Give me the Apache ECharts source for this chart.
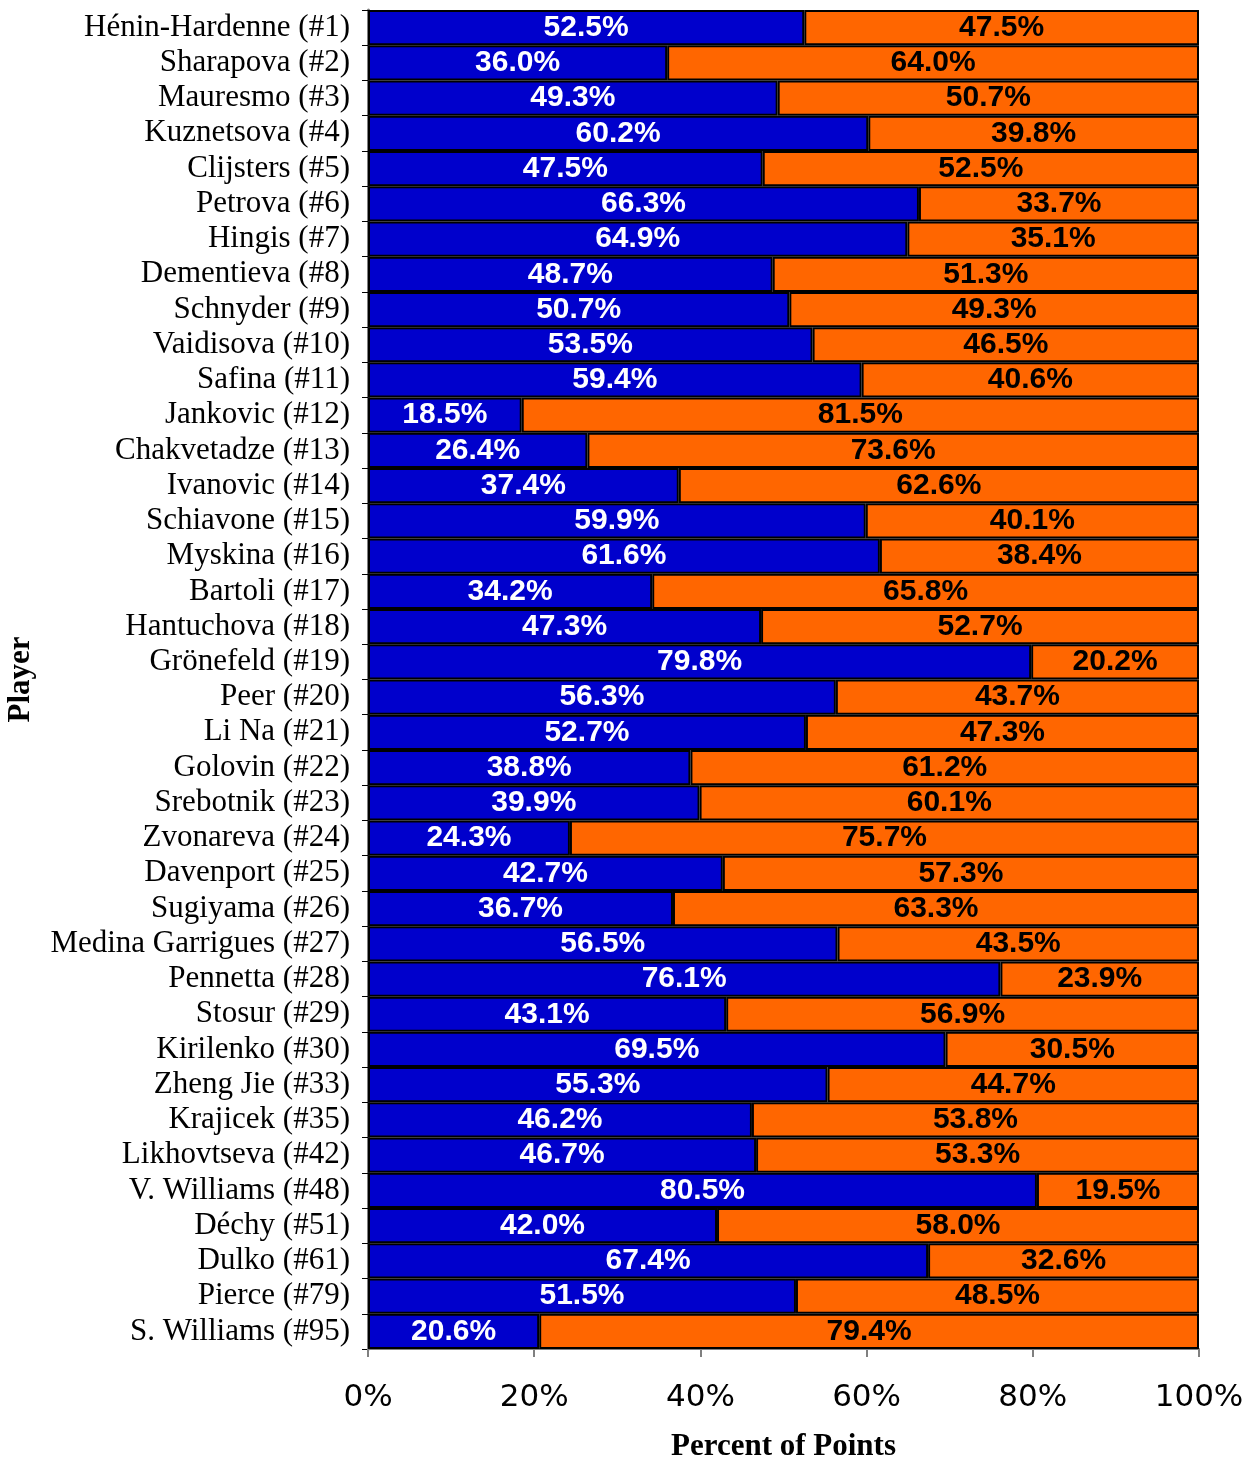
<!DOCTYPE html>
<html>
<head>
<meta charset="utf-8">
<script src="https://cdn.jsdelivr.net/npm/echarts@6/dist/echarts.min.js"></script>
<style>html,body{margin:0;padding:0;background:#fff;}#c{width:1251px;height:1458px;}</style>
</head>
<body>
<div id="c"></div>
<script>
const players = ["Hénin-Hardenne (#1)","Sharapova (#2)","Mauresmo (#3)","Kuznetsova (#4)","Clijsters (#5)","Petrova (#6)","Hingis (#7)","Dementieva (#8)","Schnyder (#9)","Vaidisova (#10)","Safina (#11)","Jankovic (#12)","Chakvetadze (#13)","Ivanovic (#14)","Schiavone (#15)","Myskina (#16)","Bartoli (#17)","Hantuchova (#18)","Grönefeld (#19)","Peer (#20)","Li Na (#21)","Golovin (#22)","Srebotnik (#23)","Zvonareva (#24)","Davenport (#25)","Sugiyama (#26)","Medina Garrigues (#27)","Pennetta (#28)","Stosur (#29)","Kirilenko (#30)","Zheng Jie (#33)","Krajicek (#35)","Likhovtseva (#42)","V. Williams (#48)","Déchy (#51)","Dulko (#61)","Pierce (#79)","S. Williams (#95)"];
const bluePct = [52.5,36.0,49.3,60.2,47.5,66.3,64.9,48.7,50.7,53.5,59.4,18.5,26.4,37.4,59.9,61.6,34.2,47.3,79.8,56.3,52.7,38.8,39.9,24.3,42.7,36.7,56.5,76.1,43.1,69.5,55.3,46.2,46.7,80.5,42.0,67.4,51.5,20.6];
const orangePct = [47.5,64.0,50.7,39.8,52.5,33.7,35.1,51.3,49.3,46.5,40.6,81.5,73.6,62.6,40.1,38.4,65.8,52.7,20.2,43.7,47.3,61.2,60.1,75.7,57.3,63.3,43.5,23.9,56.9,30.5,44.7,53.8,53.3,19.5,58.0,32.6,48.5,79.4];
const xTicks = [0,20,40,60,80,100];

const chart = echarts.init(document.getElementById('c'));
const lblFmt = p => p.value.toFixed(1) + '%';
chart.setOption({
  animation: false,
  backgroundColor: '#fff',
  grid: {left: 368, right: 52, top: 10, bottom: 109, containLabel: false, outerBoundsMode: 'none'},
  xAxis: {
    type: 'value', min: xTicks[0], max: xTicks[xTicks.length-1], interval: 20,
    name: 'Percent of Points', nameLocation: 'middle', nameGap: 82,
    nameTextStyle: {fontFamily: 'Liberation Serif', fontWeight: 'bold', fontSize: 31, color: '#000'},
    axisLine: {show: true, lineStyle: {color: '#808080', width: 2}},
    axisTick: {show: true, length: 8, lineStyle: {color: '#808080', width: 2}},
    axisLabel: {formatter: '{value}%', fontFamily: 'DejaVu Sans', fontSize: 31, color: '#000', margin: 33},
    splitLine: {show: false}
  },
  yAxis: {
    type: 'category', data: players, inverse: true,
    name: 'Player', nameLocation: 'middle', nameGap: 332, nameRotate: 90,
    nameTextStyle: {fontFamily: 'Liberation Serif', fontWeight: 'bold', fontSize: 31, color: '#000'},
    axisLine: {show: true, lineStyle: {color: '#808080', width: 3}},
    axisTick: {show: true, length: 6, alignWithLabel: false, lineStyle: {color: '#000', width: 1}},
    axisLabel: {fontFamily: 'Liberation Serif', fontSize: 31, color: '#000', margin: 18, interval: 0}
  },
  series: [
    {
      type: 'bar', stack: 'p', data: bluePct, barCategoryGap: '0%',
      itemStyle: {color: '#0000CC', borderColor: '#000', borderWidth: 2},
      label: {show: true, position: 'inside', formatter: lblFmt, color: '#fff', fontFamily: 'Liberation Sans', fontWeight: 'bold', fontSize: 30}
    },
    {
      type: 'bar', stack: 'p', data: orangePct, barCategoryGap: '0%',
      itemStyle: {color: '#FF6600', borderColor: '#000', borderWidth: 2},
      label: {show: true, position: 'inside', formatter: lblFmt, color: '#000', fontFamily: 'Liberation Sans', fontWeight: 'bold', fontSize: 30}
    }
  ]
});
</script>
</body>
</html>
